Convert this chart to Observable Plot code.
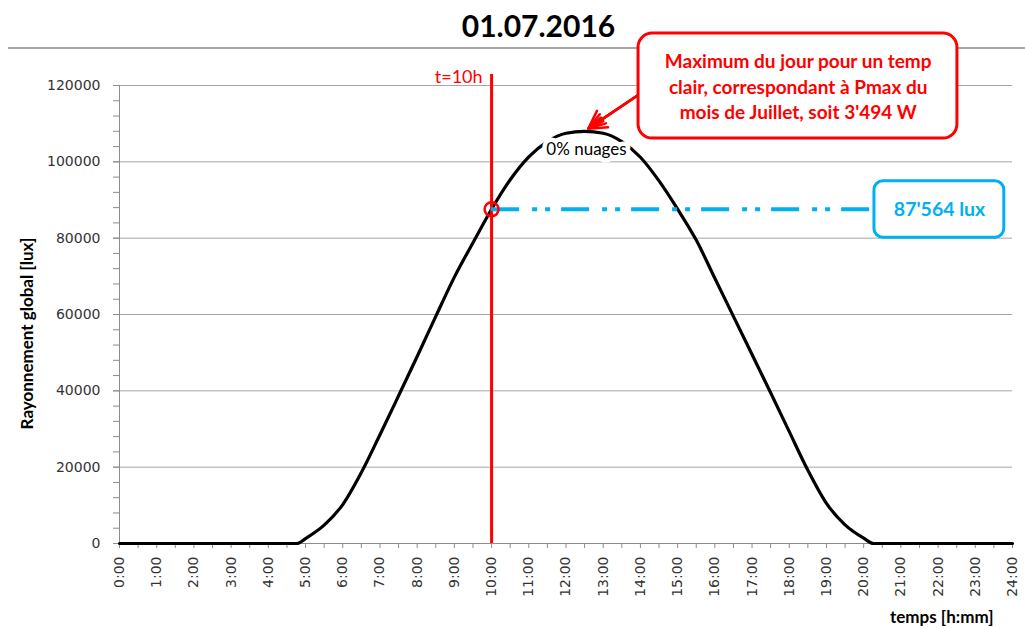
<!DOCTYPE html>
<html><head><meta charset="utf-8">
<script src="https://cdn.jsdelivr.net/npm/d3@7"></script>
<script src="https://cdn.jsdelivr.net/npm/@observablehq/plot@0.6"></script>
<style>
body{margin:0;background:#fff;}
#head{box-sizing:border-box;margin-left:8px;width:1017px;height:49px;border-bottom:2px solid #a6a6a6;padding-left:44px;font-family:Lato,sans-serif;font-weight:bold;font-size:30px;line-height:51px;text-align:center;color:#000;}
svg{overflow:visible;}
</style></head>
<body>
<div id="head">01.07.2016</div>
<div id="chart"></div>
<script>
// ---- data ----
const hours = [0,1,2,3,4,4.5,4.77,5,5.5,6,6.5,7,7.5,8,8.5,9,9.5,10,10.5,11,11.5,12,12.5,13,13.5,14,14.5,15,15.5,16,16.5,17,17.5,18,18.5,19,19.5,20,20.26,21,22,23,24];
const lux = [0,0,0,0,0,0,0,1300,4800,10200,18600,28500,38700,49000,59500,69800,78800,87564,95300,101300,105300,107500,108000,107500,105300,101200,95000,87600,79500,69500,59500,49500,39500,29300,19200,10500,4900,1400,0,0,0,0,0];
const yTicks = [0,20000,40000,60000,80000,100000,120000];
const yMinor = d3.range(0,120001,4000);
const xTicks = d3.range(0,24.01,0.5);
const markTime = 10;
const markLux = 87564;
const peakLabel = "0% nuages";
const calloutText = "Maximum du jour pour un temp\nclair, correspondant à Pmax du\nmois de Juillet, soit 3'494 W";
const valueText = "87'564 lux";
const timeLabel = "t=10h";
const yTitle = "Rayonnement global [lux]";
const xTitle = "temps [h:mm]";
// annotation anchors (in data units)
const redBox = [{x1:13.95,x2:22.52,y1:106100,y2:133600}];
const redText = [{x:18.24,y:120000}];
const redArrow = [{x1:13.92,y1:117400,x2:12.60,y2:108700}];
const blueBox = [{x1:20.29,x2:23.78,y1:80100,y2:94900}];
const blueText = [{x:22.04,y:markLux}];
const peakPos = [{x:12.55,y:103200}];
const ruleTop = 122900;
const labelTop = 122200;

const series = hours.map((t,i)=>({t, v: lux[i]}));
const RED = "#ff0000", BLUE = "#00b0f0", GRID = "#a6a6a6", AX = "#8c8c8c";

const chart = Plot.plot({
  width: 1025, height: 579,
  marginLeft: 119, marginRight: 13, marginTop: 36, marginBottom: 85,
  x: {domain: [0,24], label: null},
  y: {domain: [0,120000], label: null},
  style: {fontFamily: "DejaVu Sans", fontSize: "14px", background: "transparent", overflow: "visible", color: "#333"},
  marks: [
    Plot.gridY(yTicks, {stroke: GRID, strokeOpacity: 1}),
    Plot.axisY(yMinor, {tickSize: 6, tickFormat: () => "", stroke: AX, strokeOpacity: 1}),
    Plot.axisY(yTicks, {tickSize: 6, tickPadding: 13, tickFormat: d => String(d), stroke: AX, strokeOpacity: 1, fill: "#333"}),
    Plot.axisX(xTicks, {tickSize: 5, tickPadding: 8, tickRotate: -90, tickFormat: d => Number.isInteger(d) ? `${d}:00` : "", stroke: AX, strokeOpacity: 1, fill: "#333"}),
    Plot.ruleX([0], {stroke: AX}),
    Plot.ruleY([0], {stroke: AX}),
    Plot.line(series, {x: "t", y: "v", stroke: "#000", strokeWidth: 3.2, curve: "monotone-x"}),
    Plot.text(peakPos, {x: "x", y: "y", text: () => peakLabel, fontFamily: "Lato", fontSize: 17, fill: "#000", stroke: "white", strokeWidth: 9}),
    Plot.ruleX([markTime], {y1: 0, y2: ruleTop, stroke: RED, strokeWidth: 3}),
    Plot.text([markTime], {x: d => d, y: labelTop, text: () => timeLabel, textAnchor: "end", dx: -9, fontFamily: "Lato", fontSize: 18, fill: RED}),
    Plot.ruleY([markLux], {x1: markTime, x2: blueBox[0].x1, stroke: BLUE, strokeWidth: 4, strokeDasharray: "28,13,5,8,5,11"}),
    Plot.dot([{t: markTime, v: markLux}], {x: "t", y: "v", r: 7, stroke: RED, strokeWidth: 2.5, fill: "none"}),
    Plot.arrow(redArrow, {x1: "x1", y1: "y1", x2: "x2", y2: "y2", stroke: RED, strokeWidth: 2.5, headLength: 12, headAngle: 60}),
    Plot.arrow(redArrow, {x1: "x1", y1: "y1", x2: "x2", y2: "y2", stroke: RED, strokeWidth: 2.5, headLength: 11, headAngle: 35}),
    Plot.arrow(redArrow, {x1: "x1", y1: "y1", x2: "x2", y2: "y2", stroke: RED, strokeWidth: 2.5, headLength: 10, headAngle: 15}),
    Plot.rect(redBox, {x1: "x1", x2: "x2", y1: "y1", y2: "y2", fill: "white", stroke: RED, strokeWidth: 3, rx: 14}),
    Plot.text(redText, {x: "x", y: "y", text: () => calloutText, fontFamily: "Lato", fontWeight: "bold", fontSize: 19, lineHeight: 1.32, fill: RED}),
    Plot.rect(blueBox, {x1: "x1", x2: "x2", y1: "y1", y2: "y2", fill: "white", stroke: BLUE, strokeWidth: 3, rx: 9}),
    Plot.text(blueText, {x: "x", y: "y", text: () => valueText, fontFamily: "Lato", fontWeight: "bold", fontSize: 19.5, fill: BLUE}),
    Plot.text([yTitle], {frameAnchor: "left", textAnchor: "middle", rotate: -90, dx: -92, dy: 19, fontFamily: "Lato", fontWeight: "bold", fontSize: 17, fill: "#000"}),
    Plot.text([xTitle], {frameAnchor: "bottom-right", textAnchor: "end", dx: -19, dy: 79, fontFamily: "Lato", fontWeight: "bold", fontSize: 17, fill: "#000"})
  ]
});
document.getElementById("chart").append(chart);
</script>
</body></html>
